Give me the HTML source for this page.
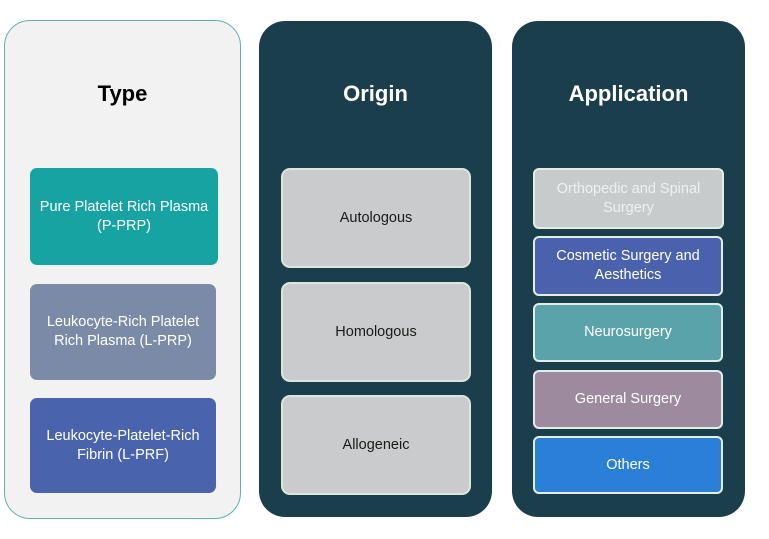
<!DOCTYPE html>
<html><head><meta charset="utf-8"><style>
html,body{margin:0;padding:0;background:#fff;}
body{width:769px;height:539px;position:relative;overflow:hidden;font-family:"Liberation Sans",sans-serif;}
.p{position:absolute;box-sizing:border-box;}
.panel1{left:4px;top:20px;width:237px;height:499px;background:#f2f2f2;border:1.5px solid #5fb3ac;border-radius:26px;}
.dark{background:#1b3e4c;border-radius:26px;}
.t{position:absolute;left:0;right:0;text-align:center;font-weight:bold;font-size:22px;}
.b{position:absolute;box-sizing:border-box;display:flex;align-items:center;justify-content:center;text-align:center;font-size:14.5px;line-height:19px;border-radius:7px;color:#fff;}
.og{background:#c9cbcc;border:2px solid #dbe6dc;color:#1a1a1a;border-radius:9px;}
.ap{border:2px solid #e4ece6;border-radius:6px;}
</style></head><body>
<div class="p panel1"></div>
<div class="t" style="left:4px;width:237px;right:auto;top:81px;color:#000;">Type</div>
<div class="b" style="left:30px;top:168px;width:188px;height:97px;background:#18a3a3;">Pure Platelet Rich Plasma<br>(P-PRP)</div>
<div class="b" style="left:30px;top:284px;width:186px;height:96px;background:#7b8ba7;">Leukocyte-Rich Platelet<br>Rich Plasma (L-PRP)</div>
<div class="b" style="left:30px;top:398px;width:186px;height:95px;background:#4964ad;">Leukocyte-Platelet-Rich<br>Fibrin (L-PRF)</div>

<div class="p dark" style="left:259px;top:21px;width:233px;height:496px;"></div>
<div class="t" style="left:259px;width:233px;right:auto;top:81px;color:#fff;">Origin</div>
<div class="b og" style="left:281px;top:168px;width:190px;height:100px;">Autologous</div>
<div class="b og" style="left:281px;top:282px;width:190px;height:100px;">Homologous</div>
<div class="b og" style="left:281px;top:395px;width:190px;height:100px;">Allogeneic</div>

<div class="p dark" style="left:512px;top:21px;width:233px;height:496px;"></div>
<div class="t" style="left:512px;width:233px;right:auto;top:81px;color:#fff;">Application</div>
<div class="b ap" style="left:533px;top:168px;width:191px;height:61px;background:#c8cbcc;color:#eef1f1;">Orthopedic and Spinal<br>Surgery</div>
<div class="b ap" style="left:533px;top:236px;width:190px;height:60px;background:#4a62ad;">Cosmetic Surgery and<br>Aesthetics</div>
<div class="b ap" style="left:533px;top:303px;width:190px;height:59px;background:#5ba3ab;">Neurosurgery</div>
<div class="b ap" style="left:533px;top:370px;width:190px;height:59px;background:#9d8a9e;">General Surgery</div>
<div class="b ap" style="left:533px;top:436px;width:190px;height:58px;background:#2a7fd6;">Others</div>
</body></html>
